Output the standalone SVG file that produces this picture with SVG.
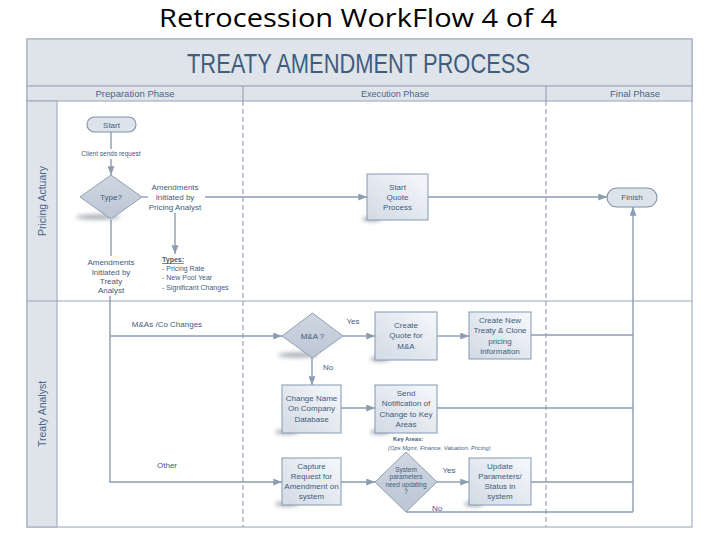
<svg xmlns="http://www.w3.org/2000/svg" width="720" height="540" viewBox="0 0 720 540">
<style>
.band{fill:#dfe4eb;stroke:#a3afbe;stroke-width:1.2}
.div{stroke:#98a6b7;stroke-width:1.2;fill:none}
.dash{stroke:#8d9db0;stroke-width:1.1;stroke-dasharray:5 3;fill:none}
.ln{stroke:#8d9db0;stroke-width:1.4;fill:none}
.arr{marker-end:url(#ah)}
.box{fill:url(#bg);stroke:#8499b3;stroke-width:1}
.dia{fill:url(#dg);stroke:#8f9fb3;stroke-width:1}
.pill{fill:#dde3eb;stroke:#7f93ab;stroke-width:1.1}
.shd{fill:#5a6472;opacity:.55;filter:url(#bl)}
text{font-family:"Liberation Sans",Arial,sans-serif;fill:#3f5c7c}
.t{font-size:8px;text-anchor:middle}
.s{font-size:6.5px;text-anchor:middle}
.sm{font-size:7px}
.hd{font-size:9.5px;text-anchor:middle;fill:#4a6585}
.lane{font-size:10.5px;text-anchor:middle;fill:#4a6585}
</style>
<defs>
<linearGradient id="bg" x1="1" y1="0" x2="0" y2="1"><stop offset="0" stop-color="#f6f8fb"/><stop offset="1" stop-color="#d2dae5"/></linearGradient>
<linearGradient id="dg" x1="0" y1="0" x2="0" y2="1"><stop offset="0" stop-color="#d0d7e2"/><stop offset="1" stop-color="#bcc6d4"/></linearGradient>
<marker id="ah" viewBox="0 0 10 8" refX="10" refY="4" markerWidth="9" markerHeight="7" markerUnits="userSpaceOnUse" orient="auto"><path d="M0,0 L10,4 L0,8 Z" fill="#8d9db0"/></marker>
<filter id="bl" x="-50%" y="-200%" width="200%" height="500%"><feGaussianBlur stdDeviation="2.2"/></filter>
</defs>
<rect width="720" height="540" fill="#fff"/>
<text x="358" y="27" font-size="25" text-anchor="middle" textLength="398" lengthAdjust="spacingAndGlyphs" style="font-family:'Open Sans','Liberation Sans',sans-serif;fill:#000">Retrocession WorkFlow 4 of 4</text>

<g id="frame">
<rect x="27" y="39" width="665" height="488" fill="#fff" stroke="#a3afbe" stroke-width="1.2"/>
<rect class="band" x="27" y="39" width="665" height="47"/>
<rect class="band" x="27" y="86" width="665" height="15"/>
<rect class="band" x="27" y="101" width="30" height="426"/>
<line class="div" x1="27" y1="301" x2="692" y2="301"/>
<line class="div" x1="243" y1="86" x2="243" y2="101"/>
<line class="div" x1="546" y1="86" x2="546" y2="101"/>
<line class="dash" x1="243" y1="101" x2="243" y2="527"/>
<line class="dash" x1="546" y1="101" x2="546" y2="527"/>
<text x="358.5" y="73" font-size="28" text-anchor="middle" textLength="343" lengthAdjust="spacingAndGlyphs" style="fill:#3f5d7d">TREATY AMENDMENT PROCESS</text>
<text class="hd" x="135" y="97" textLength="79" lengthAdjust="spacingAndGlyphs">Preparation Phase</text>
<text class="hd" x="395" y="97" textLength="68" lengthAdjust="spacingAndGlyphs">Execution Phase</text>
<text class="hd" x="635" y="97" textLength="50" lengthAdjust="spacingAndGlyphs">Final Phase</text>
<text class="lane" transform="translate(45.5,201) rotate(-90)">Pricing Actuary</text>
<text class="lane" transform="translate(45.5,414) rotate(-90)">Treaty Analyst</text>
</g>

<g id="connectors">
<line class="ln" x1="111" y1="132" x2="111" y2="149"/>
<line class="ln arr" x1="111" y1="159" x2="111" y2="175"/>
<line class="ln" x1="142" y1="197" x2="148" y2="197"/>
<line class="ln arr" x1="205" y1="197" x2="367" y2="197"/>
<line class="ln arr" x1="175" y1="213" x2="175" y2="254"/>
<line class="ln" x1="111" y1="220" x2="111" y2="256"/>
<path class="ln arr" d="M110,296 V482 H282"/>
<line class="ln arr" x1="110" y1="336" x2="282" y2="336"/>
<line class="ln arr" x1="428" y1="197" x2="607" y2="197"/>
<line class="ln arr" x1="343" y1="336" x2="375" y2="336"/>
<line class="ln arr" x1="437" y1="336" x2="469" y2="336"/>
<line class="ln" x1="531" y1="335" x2="633" y2="335"/>
<line class="ln arr" x1="312" y1="358" x2="312" y2="385"/>
<line class="ln arr" x1="341" y1="408" x2="375" y2="408"/>
<line class="ln" x1="437" y1="408" x2="633" y2="408"/>
<line class="ln arr" x1="341" y1="482" x2="375" y2="482"/>
<line class="ln arr" x1="437" y1="482" x2="469" y2="482"/>
<line class="ln" x1="531" y1="482" x2="633" y2="482"/>
<line class="ln" x1="406" y1="512" x2="633" y2="512"/>
<line class="ln arr" x1="633" y1="512" x2="633" y2="207"/>
<text class="s" x="111" y="156">Client sends request</text>
<text class="t" x="175" y="190">Amendments</text>
<text class="t" x="175" y="200">Initiated by</text>
<text class="t" x="175" y="210">Pricing Analyst</text>
<text class="sm" x="162" y="262" font-weight="bold" text-decoration="underline">Types:</text>
<text class="sm" x="162" y="271">- Pricing Rate</text>
<text class="sm" x="162" y="280">- New Pool Year</text>
<text class="sm" x="162" y="290">- Significant Changes</text>
<text class="t" x="111" y="265">Amendments</text>
<text class="t" x="111" y="275">Initiated by</text>
<text class="t" x="111" y="284">Treaty</text>
<text class="t" x="111" y="293">Analyst</text>
<text class="t" x="167" y="327">M&amp;As /Co Changes</text>
<text class="t" x="167" y="468">Other</text>
<text class="t" x="353" y="324">Yes</text>
<text class="t" x="328" y="370">No</text>
<text class="t" x="449" y="473">Yes</text>
<text class="t" x="437" y="511">No</text>
<text x="393" y="441" font-size="5.8" font-weight="bold">Key Areas:</text>
<text x="388" y="450" font-size="5.8" font-style="italic">(Ops Mgmt, Finance, Valuation, Pricing)</text>
</g>

<g id="start">
<rect class="pill" x="87" y="117" width="49" height="15" rx="7.5"/>
<text class="t" x="111.5" y="127.5">Start</text>
</g>
<g id="type">
<ellipse class="shd" cx="98" cy="217" rx="22" ry="2.5"/>
<polygon class="dia" points="111,175 142,197 111,219 80,197"/>
<text class="t" x="111" y="200" font-size="8.5">Type?</text>
</g>
<g id="startquote">
<ellipse class="shd" cx="372" cy="219" rx="10" ry="2.5"/>
<rect class="box" x="367" y="174" width="61" height="46"/>
<text class="t" x="397.5" y="190">Start</text>
<text class="t" x="397.5" y="200">Quote</text>
<text class="t" x="397.5" y="210">Process</text>
</g>
<g id="finish">
<rect class="pill" x="607" y="188" width="50" height="19" rx="9.5"/>
<text class="t" x="632" y="200">Finish</text>
</g>
<g id="ma">
<ellipse class="shd" cx="298" cy="355" rx="20" ry="2.5"/>
<polygon class="dia" points="312.5,313 343,336 312.5,358 282,336"/>
<text class="t" x="312.5" y="339">M&amp;A ?</text>
</g>
<g id="createquote">
<ellipse class="shd" cx="380" cy="359" rx="10" ry="2.5"/>
<rect class="box" x="375" y="312" width="62" height="48"/>
<text class="t" x="406" y="328">Create</text>
<text class="t" x="406" y="338">Quote for</text>
<text class="t" x="406" y="349">M&amp;A</text>
</g>
<g id="createtreaty">
<rect class="box" x="469" y="312" width="62" height="47"/>
<text class="t" x="500" y="323">Create New</text>
<text class="t" x="500" y="333">Treaty &amp; Clone</text>
<text class="t" x="500" y="344">pricing</text>
<text class="t" x="500" y="354">information</text>
</g>
<g id="changename">
<ellipse class="shd" cx="287" cy="432" rx="12" ry="2.5"/>
<rect class="box" x="282" y="385" width="59" height="48"/>
<text class="t" x="311.5" y="401">Change Name</text>
<text class="t" x="311.5" y="411">On Company</text>
<text class="t" x="311.5" y="422">Database</text>
</g>
<g id="sendnotif">
<ellipse class="shd" cx="380" cy="432" rx="10" ry="2.5"/>
<rect class="box" x="375" y="385" width="62" height="48"/>
<text class="t" x="406" y="396">Send</text>
<text class="t" x="406" y="406">Notification of</text>
<text class="t" x="406" y="417">Change to Key</text>
<text class="t" x="406" y="427">Areas</text>
</g>
<g id="capture">
<ellipse class="shd" cx="287" cy="504" rx="12" ry="2.5"/>
<rect class="box" x="282" y="458" width="59" height="47"/>
<text class="t" x="311.5" y="469">Capture</text>
<text class="t" x="311.5" y="479">Request for</text>
<text class="t" x="311.5" y="489">Amendment on</text>
<text class="t" x="311.5" y="499">system</text>
</g>
<g id="sysparam">
<polygon class="dia" points="406,452 437,482 406,512 375,482"/>
<text class="s" x="406" y="472" font-size="5.5">System</text>
<text class="s" x="406" y="479" font-size="5.5">parameters</text>
<text class="s" x="406" y="487" font-size="5.5">need updating</text>
<text class="s" x="406" y="494" font-size="5.5">?</text>
</g>
<g id="update">
<ellipse class="shd" cx="474" cy="504" rx="10" ry="2.5"/>
<rect class="box" x="469" y="458" width="62" height="47"/>
<text class="t" x="500" y="469">Update</text>
<text class="t" x="500" y="479">Parameters/</text>
<text class="t" x="500" y="489">Status in</text>
<text class="t" x="500" y="499">system</text>
</g>
</svg>
